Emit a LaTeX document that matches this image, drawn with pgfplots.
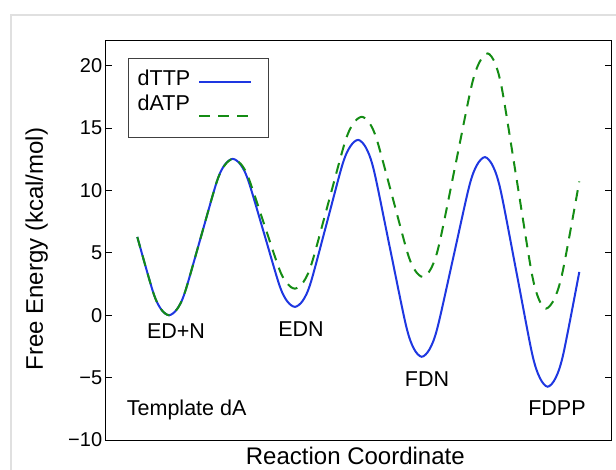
\documentclass[border=0pt]{standalone}
\usepackage{fontspec}
\setmainfont{Liberation Sans}
\usepackage{pgfplots}
\pgfplotsset{compat=1.18}
\definecolor{cblue}{RGB}{30,55,225}
\definecolor{cgreen}{RGB}{20,140,20}
\pgfplotsset{
  legup/.style={legend image code/.code={\draw[##1] (0pt,-4.4pt) -- (52pt,-4.4pt); \path (0pt,7.7pt) (59.1pt,-7.7pt);}},
  legdown/.style={legend image code/.code={\draw[##1] (0pt,-12.7pt) -- (52pt,-12.7pt); \path (0pt,7.7pt) (59.1pt,-23.4pt);}},
}
\begin{document}
\begin{tikzpicture}
\useasboundingbox (-105.7pt,-29pt) rectangle (510.3pt,440pt);
\draw[line width=1.5pt, black!12] (-94.7pt,-40pt) -- (-94.7pt,425pt) -- (530pt,425pt);
\begin{axis}[
  at={(0pt,0pt)}, anchor=south west,
  scale only axis, width=505.3pt, height=399.3pt,
  xmin=105.7, xmax=611, ymin=-10, ymax=22,
  xtick=\empty,
  ytick={-10,-5,0,5,10,15,20},
  yticklabels={−10,−5,0,5,10,15,20},
  major tick length=6pt,
  axis line style={line width=1pt},
  tick style={line width=1pt, black},
  tick label style={font=\fontsize{20}{24}\selectfont},
  xlabel={Reaction Coordinate},
  ylabel={Free Energy (kcal/mol)},
  label style={font=\fontsize{24}{28}\selectfont},
  xlabel style={at={(axis description cs:0.494,-0.0615)}, anchor=base},
  ylabel style={at={(axis description cs:-0.1366,0.478)}, anchor=center},
  legend plot pos=right,
  legend cell align=left,
  legend style={at={(axis description cs:0.0435,0.9574)}, anchor=north west,
    draw=black!75, line width=0.8pt, font=\fontsize{21.5}{24}\selectfont,
    inner xsep=9.6pt, inner ysep=10.6pt, row sep=8pt, column sep=7.9pt,
    nodes={inner sep=0pt, text height=15.4pt, text depth=0pt}},
]
\addplot[cblue, line width=2pt, smooth, legup]
coordinates {
(137.3,6.27) (153.2,1.83) (161.1,0.48) (169,0) (176.96,0.48) (184.9,1.83) (200.9,6.27)
(216.8,10.70) (224.7,12.05) (232.7,12.53) (240.5,12.08) (248.3,10.79) (263.9,6.60)
(279.4,2.41) (287.2,1.12) (295,0.67) (302.9,1.18) (310.8,2.63) (326.7,7.36)
(342.5,12.09) (350.4,13.54) (358.3,14.05) (366.2,13.39) (374.2,11.51) (390,5.36)
(405.9,-0.79) (413.8,-2.67) (421.7,-3.33) (429.6,-2.72) (437.5,-0.99) (453.4,4.67)
(469.2,10.33) (477.1,12.06) (485,12.67) (492.8,11.97) (500.7,9.98) (516.4,3.47)
(532,-3.04) (539.9,-5.03) (547.7,-5.73) (555.6,-5.03) (563.5,-3.04) (579.3,3.47)
};
\addlegendentry{dTTP}
\addplot[cgreen, line width=2pt, smooth, dash pattern=on 11pt off 8pt, legdown]
coordinates {
(137.3,6.27) (153.2,1.83) (161.1,0.48) (169,0) (177,0.48) (184.9,1.83) (200.9,6.27)
(216.8,10.70) (225,12.05) (233,12.53) (240.75,12.13) (248.5,11.01) (264,7.33)
(279.5,3.65) (287.25,2.53) (295,2.13) (303.3,2.65) (311.7,4.15) (328.4,9.02)
(345,13.88) (353.4,15.38) (361.7,15.9) (369.4,15.41) (377,14.02) (392.4,9.49)
(407.7,4.95) (415.3,3.56) (423,3.07) (431.1,3.75) (439.2,5.69) (455.4,12.03)
(471.5,18.36) (479.6,20.30) (487.7,20.98) (495.0,20.20) (502.3,17.99) (516.9,10.76)
(531.4,3.52) (538.7,1.31) (546,0.53) (554.3,1.31) (562.7,3.51) (579.3,10.72)
};
\addlegendentry{dATP}
\begin{scope}[every node/.style={font=\fontsize{21.5}{24}\selectfont, inner sep=0pt}]
\node[anchor=base] at (axis cs:176,-1.84) {ED+N};
\node[anchor=base] at (axis cs:301,-1.68) {EDN};
\node[anchor=base] at (axis cs:427,-5.68) {FDN};
\node[anchor=base] at (axis cs:557,-8.0) {FDPP};
\node[anchor=base west] at (axis cs:126.7,-8.0) {Template dA};
\end{scope}
\end{axis}
\end{tikzpicture}
\end{document}
